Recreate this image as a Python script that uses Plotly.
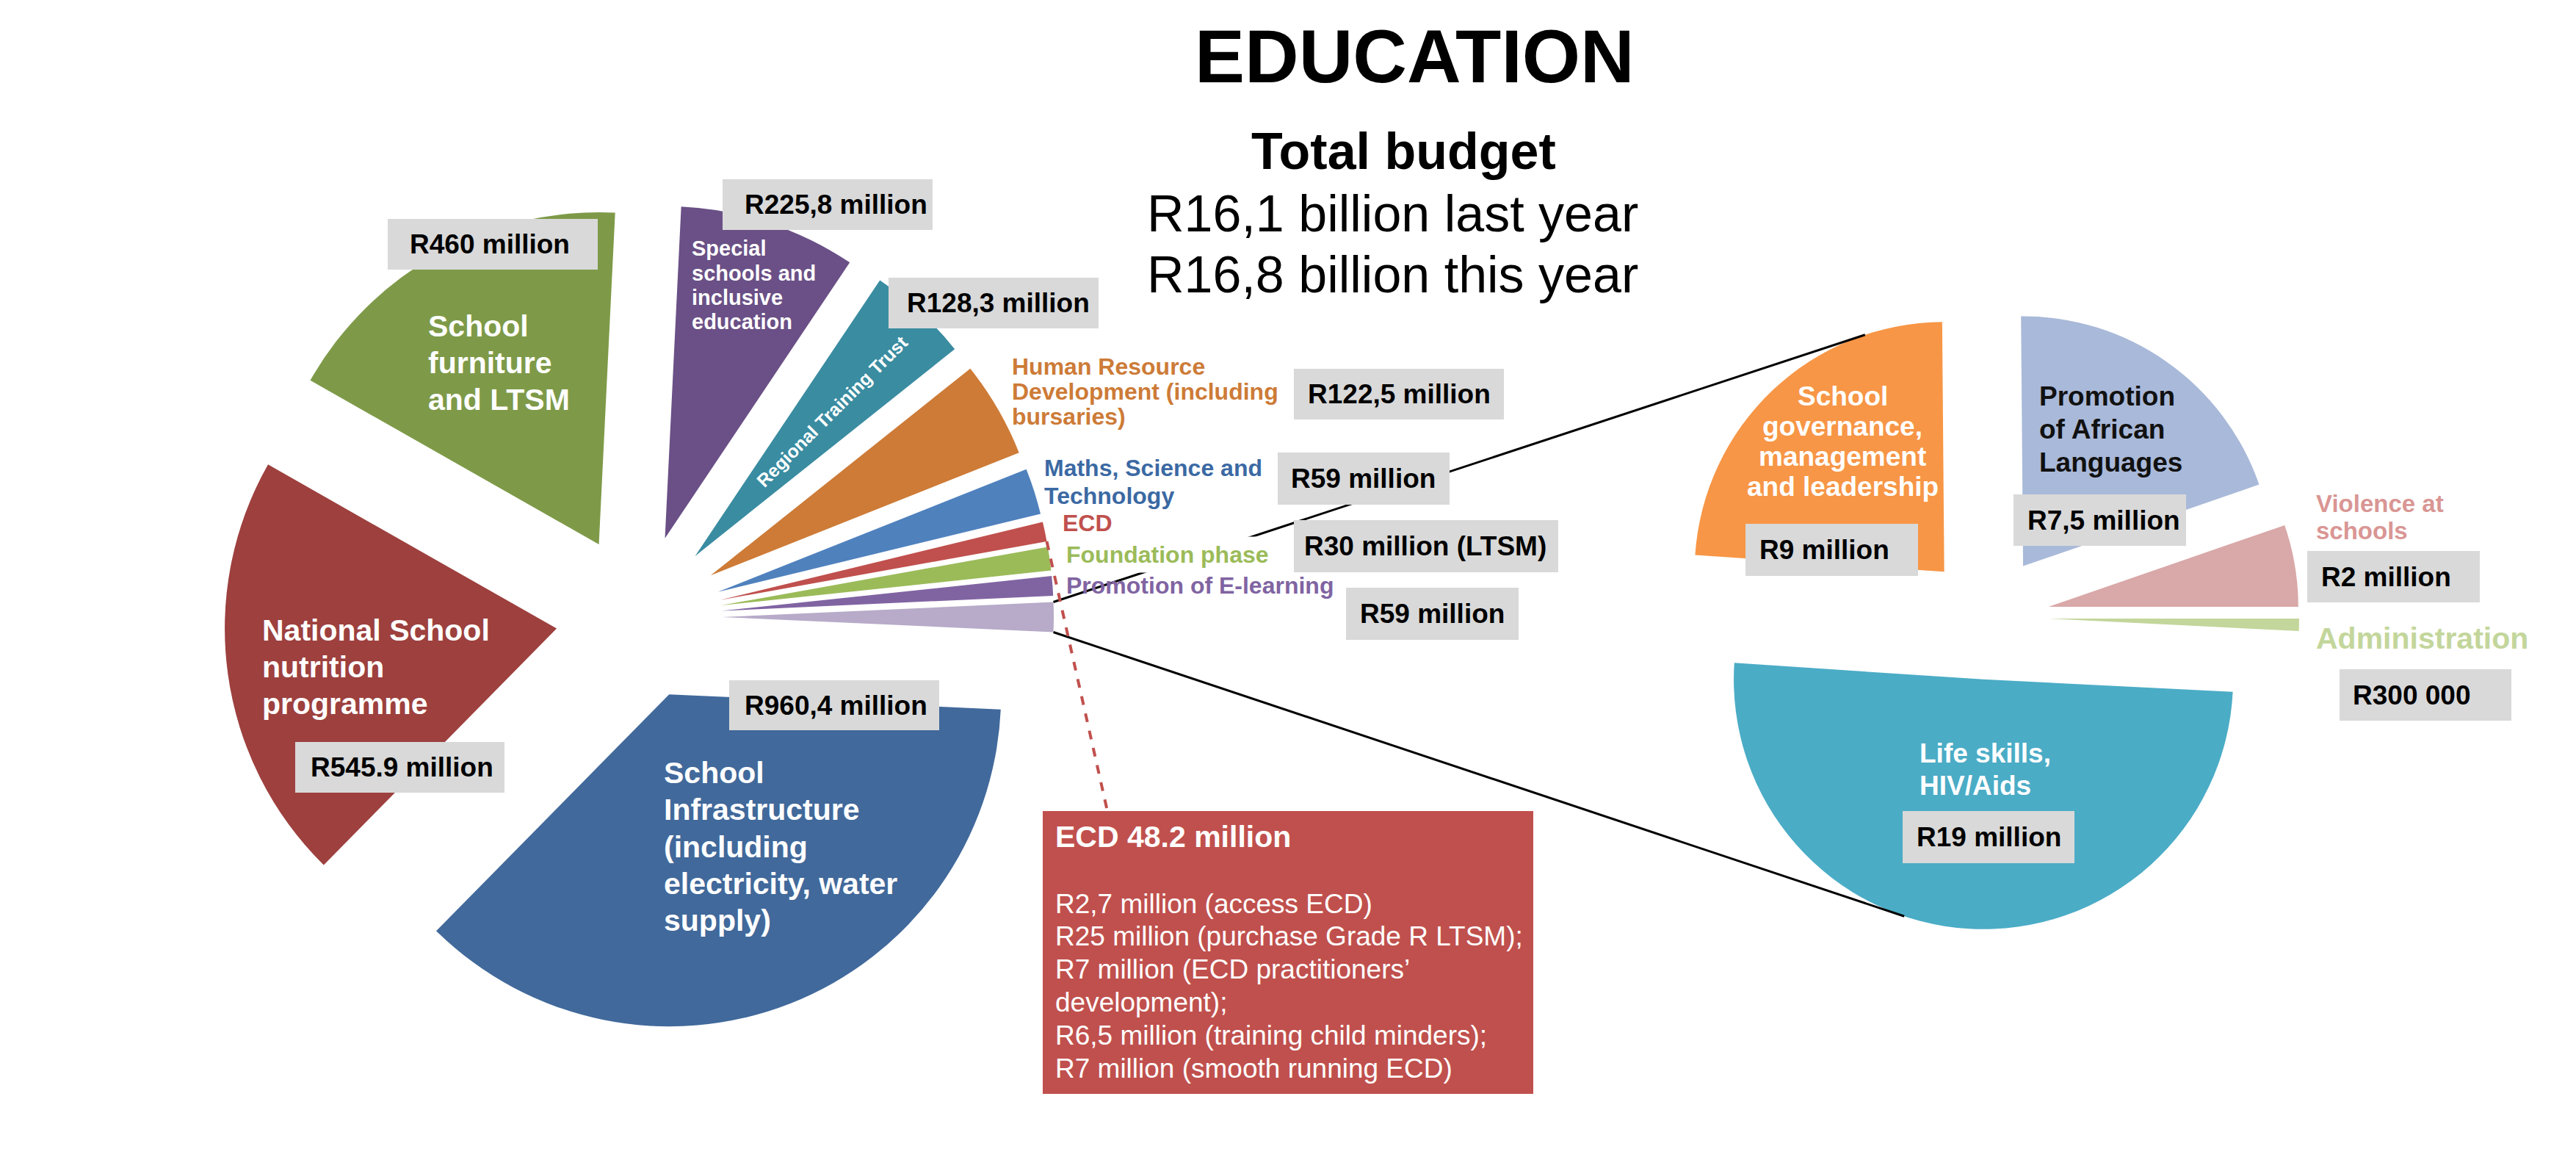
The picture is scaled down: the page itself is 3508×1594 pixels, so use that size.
import math
import plotly.graph_objects as go

W, H = 3508, 1594
FONT = "Liberation Sans, Arial, sans-serif"

# left pie, listed counterclockwise starting at 3 o'clock
left_labels = ["Other programmes", "Promotion of E-learning", "Foundation phase", "ECD",
               "Maths, Science and Technology", "Human Resource Development (including bursaries)",
               "Regional Training Trust", "Special schools and inclusive education",
               "School furniture and LTSM", "National School nutrition programme",
               "School Infrastructure (including electricity, water supply)"]
left_colors = ["#b7abc9", "#8064a2", "#9bbb59", "#c0504d", "#4f81bd", "#cd7b37",
               "#3a8ca1", "#6a5086", "#7e9a48", "#9d403e", "#41699b"]

# right pie (breakdown of "Other programmes"), counterclockwise from 3 o'clock
right_labels = ["Violence at schools", "Promotion of African Languages",
                "School governance, management and leadership", "Life skills, HIV/Aids",
                "Administration"]
right_values = [2, 7.5, 9, 19, 0.3]
right_colors = ["#d9a8a8", "#a9b9d9", "#f79646", "#4bacc6", "#c3d69b"]

left_values = [sum(right_values), 25, 30, 25, 59, 122.5, 128.3, 225.8, 460, 545.9, 960.4]

value_labels = ["R460 million", "R225,8 million", "R128,3 million", "R122,5 million",
                "R59 million", "R30 million (LTSM)", "R59 million", "R545.9 million",
                "R960,4 million", "R9 million", "R7,5 million", "R2 million",
                "R300 000", "R19 million"]

ecd_title = "ECD 48.2 million"
ecd_items = ["R2,7 million (access ECD)", "R25 million (purchase Grade R LTSM);",
             "R7 million (ECD practitioners’", "development);",
             "R6,5 million (training child minders);", "R7 million (smooth running ECD)"]

title = "EDUCATION"
subtitle = "Total budget"
budget_lines = ["R16,1 billion last year", "R16,8 billion this year"]

# ---- geometry (pixels) ----
PULL = 0.25
LCX, LCY, LR = 862, 832, 452
RCX, RCY, RR = 2698, 832, 340


def px(x):
    return x / W


def py(y):
    return 1 - y / H


def domain(cx, cy, r):
    half = r * (1 + PULL)
    return dict(x=[px(cx - half), px(cx + half)], y=[py(cy + half), py(cy - half)])


def rotation_for(values, start):
    # plotly puts the first slice clockwise of the rotation line when counterclockwise
    return 90 - start - 360 * values[0] / sum(values)


left_total = sum(left_values)
half_other = 180 * left_values[0] / left_total  # first slice centred on 3 o'clock
left_start = -half_other
right_start = 0

fig = go.Figure()
fig.add_trace(go.Pie(values=left_values, labels=left_labels, sort=False,
                     direction="counterclockwise", rotation=rotation_for(left_values, left_start),
                     pull=[PULL] * len(left_values), textinfo="none",
                     marker=dict(colors=left_colors, line=dict(width=0)),
                     domain=domain(LCX, LCY, LR), hoverinfo="label+value"))
fig.add_trace(go.Pie(values=right_values, labels=right_labels, sort=False,
                     direction="counterclockwise", rotation=rotation_for(right_values, right_start),
                     pull=[PULL] * len(right_values), textinfo="none",
                     marker=dict(colors=right_colors, line=dict(width=0)),
                     domain=domain(RCX, RCY, RR), hoverinfo="label+value"))


def slice_angles(values, start):
    tot = sum(values)
    out, a = [], start
    for v in values:
        w = 360 * v / tot
        out.append((a, a + w))
        a += w
    return out


def point(cx, cy, r, ang_start, ang_end, ang, dist):
    mid = math.radians((ang_start + ang_end) / 2)
    ax = cx + PULL * r * math.cos(mid)
    ay = cy - PULL * r * math.sin(mid)
    return ax + dist * math.cos(math.radians(ang)), ay - dist * math.sin(math.radians(ang))


shapes = []
la = slice_angles(left_values, left_start)
ra = slice_angles(right_values, right_start)

# connector lines between the pies
o0, o1 = la[0]
top_start = point(LCX, LCY, LR, o0, o1, o1, LR)
bot_start = point(LCX, LCY, LR, o0, o1, o0, LR)
g0, g1 = ra[2]
top_end = point(RCX, RCY, RR, g0, g1, 108.5, RR)
s0, s1 = ra[3]
bot_end = point(RCX, RCY, RR, s0, s1, -108.5, RR)
for a, b in [(top_start, top_end), (bot_start, bot_end)]:
    shapes.append(dict(type="line", xref="paper", yref="paper", x0=px(a[0]), y0=py(a[1]),
                       x1=px(b[0]), y1=py(b[1]), line=dict(color="black", width=3)))

# dashed leader from the ECD slice to the ECD box
e0, e1 = la[3]
ecd_pt = point(LCX, LCY, LR, e0, e1, e0, LR)
ECD_BOX = (1412, 1096, 2080, 1481)
shapes.append(dict(type="line", xref="paper", yref="paper", x0=px(ecd_pt[0]), y0=py(ecd_pt[1]),
                   x1=px(1500), y1=py(ECD_BOX[1]),
                   line=dict(color="#c0504d", width=4, dash="dash")))
shapes.append(dict(type="rect", xref="paper", yref="paper", x0=px(ECD_BOX[0]), y0=py(ECD_BOX[1]),
                   x1=px(ECD_BOX[2]), y1=py(ECD_BOX[3]), fillcolor="#c0504d", line=dict(width=0)))

# grey value boxes
BOX_POS = [(520, 290, 806, 359), (976, 236, 1262, 305), (1202, 370, 1488, 439),
           (1754, 494, 2040, 563), (1732, 608, 1966, 679), (1754, 700, 2114, 771),
           (1825, 792, 2060, 863), (394, 1002, 679, 1071), (985, 918, 1271, 986),
           (2369, 705, 2604, 776), (2734, 665, 2969, 735), (3134, 742, 3369, 812),
           (3178, 903, 3412, 973), (2583, 1096, 2817, 1167)]
BOX_PAD = [28, 28, 23, 17, 16, 12, 17, 19, 19, 17, 17, 17, 16, 17]

annotations = []
for txt, (x0, y0, x1, y1), pad in zip(value_labels, BOX_POS, BOX_PAD):
    shapes.append(dict(type="rect", xref="paper", yref="paper", x0=px(x0), y0=py(y0),
                       x1=px(x1), y1=py(y1), fillcolor="#d9d9d9", line=dict(width=0)))
    annotations.append(dict(x=px(x0 + pad), y=py((y0 + y1) / 2), text=f"<b>{txt}</b>",
                            xanchor="left", yanchor="middle",
                            font=dict(family=FONT, size=37, color="black")))


def lines(txts, x, y0, gap, size, color, anchor="left", bold=True, bg=None):
    for i, t in enumerate(txts):
        a = dict(x=px(x), y=py(y0 + i * gap), text=f"<b>{t}</b>" if bold else t,
                 xanchor=anchor, yanchor="middle",
                 font=dict(family=FONT, size=size, color=color))
        if bg:
            a.update(bgcolor=bg, borderpad=6)
        annotations.append(a)


# titles
lines([title], 1918, 69, 0, 102, "black", anchor="center")
lines([subtitle], 1903, 198, 0, 70, "black", anchor="center")
lines(budget_lines, 1888, 283, 83, 70, "black", anchor="center", bold=False)

# labels of the left pie
lines(["School", "furniture", "and LTSM"], 573, 436, 50, 41, "white")
lines(["Special", "schools and", "inclusive", "education"], 932, 330, 33.5, 29, "white")
lines(["National School", "nutrition", "programme"], 347, 850, 50, 41, "white")
lines(["School", "Infrastructure", "(including", "electricity, water", "supply)"],
      894, 1044, 50.3, 41, "white")
lines(["Human Resource", "Development (including", "bursaries)"], 1368, 491, 34, 32, "#cd7b37")
lines(["Maths, Science and", "Technology"], 1412, 629, 38, 32, "#3b69a3")
lines(["ECD"], 1437, 704, 0, 32, "#c0504d")
lines(["Foundation phase"], 1437, 747, 0, 32, "#9bbb59", bg="white")
lines(["Promotion of E-learning"], 1442, 789, 0, 32, "#8064a2")
annotations.append(dict(x=px(1125), y=py(552), text="<b>Regional Training Trust</b>",
                        textangle=-45, xanchor="center", yanchor="middle",
                        font=dict(family=FONT, size=25, color="white")))

# labels of the right pie
lines(["School", "governance,", "management", "and leadership"], 2501, 531, 41.3, 37, "white",
      anchor="center")
lines(["Promotion", "of African", "Languages"], 2767, 531, 45, 37, "#111111")
lines(["Violence at", "schools"], 3144, 677, 37, 33, "#d99694")
lines(["Administration"], 3144, 861, 0, 41, "#c3d69b")
lines(["Life skills,", "HIV/Aids"], 2604, 1017, 44, 37, "white")

# ECD breakdown box
lines([ecd_title], 1427, 1131, 0, 41, "white")
lines(ecd_items, 1427, 1222, 44.8, 37, "white", bold=False)

for a in annotations:
    a.update(xref="paper", yref="paper", showarrow=False)

fig.update_layout(width=W, height=H, margin=dict(l=0, r=0, t=0, b=0),
                  paper_bgcolor="white", plot_bgcolor="white", showlegend=False,
                  shapes=shapes, annotations=annotations)

fig.write_html("out.html")
